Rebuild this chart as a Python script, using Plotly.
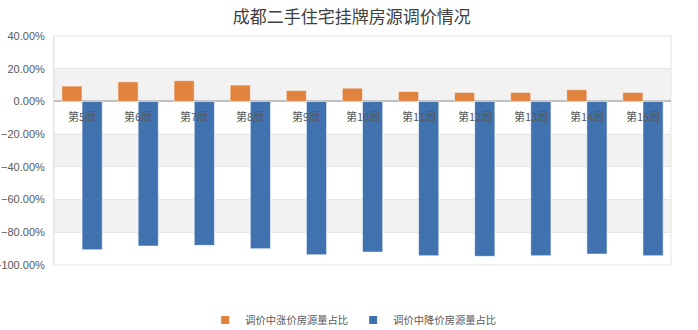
import plotly.graph_objects as go

categories = ["第5周", "第6周", "第7周", "第8周", "第9周", "第10周", "第11周", "第12周", "第13周", "第14周", "第15周"]
up_share = [0.094, 0.120, 0.127, 0.100, 0.067, 0.081, 0.061, 0.055, 0.055, 0.072, 0.055]
down_share = [-0.907, -0.884, -0.880, -0.900, -0.937, -0.921, -0.943, -0.947, -0.943, -0.933, -0.943]
series_names = ["调价中涨价房源量占比", "调价中降价房源量占比"]
title_text = "成都二手住宅挂牌房源调价情况"
y_ticks = [0.4, 0.2, 0.0, -0.2, -0.4, -0.6, -0.8, -1.0]

ORANGE = "#E0833F"
BLUE = "#4072B0"
FONT = "Liberation Sans, Noto Sans CJK SC, sans-serif"
CJK = "Noto Sans CJK SC, sans-serif"

fig = go.Figure()
fig.add_bar(x=categories, y=up_share, name=series_names[0], marker_color=ORANGE,
            marker_line=dict(color="rgba(255,255,255,0.55)", width=1), showlegend=False)
fig.add_bar(x=categories, y=down_share, name=series_names[1], marker_color=BLUE,
            marker_line=dict(color="rgba(255,255,255,0.55)", width=1), showlegend=False)
# legend proxies with small square markers
fig.add_scatter(x=[None], y=[None], mode="markers", name=series_names[0],
                marker=dict(symbol="square", size=8, color=ORANGE))
fig.add_scatter(x=[None], y=[None], mode="markers", name=series_names[1],
                marker=dict(symbol="square", size=8, color=BLUE))

# alternating background bands
shapes = []
bands = list(zip(y_ticks[:-1], y_ticks[1:]))
for i, (a, b) in enumerate(bands):
    if i % 2 == 1:
        shapes.append(dict(type="rect", xref="paper", yref="y", x0=0, x1=1, y0=b, y1=a,
                           fillcolor="#F2F2F2", line_width=0, layer="below"))
# plot border
shapes.append(dict(type="rect", xref="paper", yref="paper", x0=0, x1=1, y0=0, y1=1,
                   line=dict(color="#E3E3E3", width=1), layer="below"))

annotations = [dict(x=c, y=0, xref="x", yref="y", text=c, showarrow=False,
                    yanchor="top", yshift=-5, font=dict(family=CJK, size=11, color="#595959"))
               for c in categories]

fig.update_layout(
    width=698, height=330,
    margin=dict(l=54, r=27, t=36, b=65, autoexpand=False),
    paper_bgcolor="white", plot_bgcolor="white",
    title=dict(text=title_text, x=0.504, xref="container", xanchor="center",
               y=0.948, yref="container", yanchor="middle",
               font=dict(family=CJK, size=17, color="#404040")),
    barmode="group", bargap=0.28, bargroupgap=0,
    shapes=shapes, annotations=annotations,
    legend=dict(orientation="h", x=0.506, xanchor="center", xref="container",
                y=0.03, yanchor="middle", yref="container",
                font=dict(family=CJK, size=10.3, color="#595959"),
                itemwidth=30, tracegroupgap=0),
    font=dict(family=FONT, size=11, color="#595959"),
)
fig.update_xaxes(showticklabels=False, showgrid=False, zeroline=False, showline=False,
                 range=[-0.5, len(categories) - 0.5], automargin=False)
fig.update_yaxes(range=[-1.0, 0.4], tickvals=y_ticks, tickformat=".2%",
                 showgrid=True, gridcolor="#E6E6E6", gridwidth=1,
                 zeroline=True, zerolinecolor="#BFBFBF", zerolinewidth=1.5,
                 showline=True, linecolor="#E3E3E3", automargin=False,
                 ticks="outside", ticklen=6, tickcolor="rgba(0,0,0,0)",
                 tickfont=dict(family=FONT, size=11, color="#595959"))

fig.write_html("out.html")
